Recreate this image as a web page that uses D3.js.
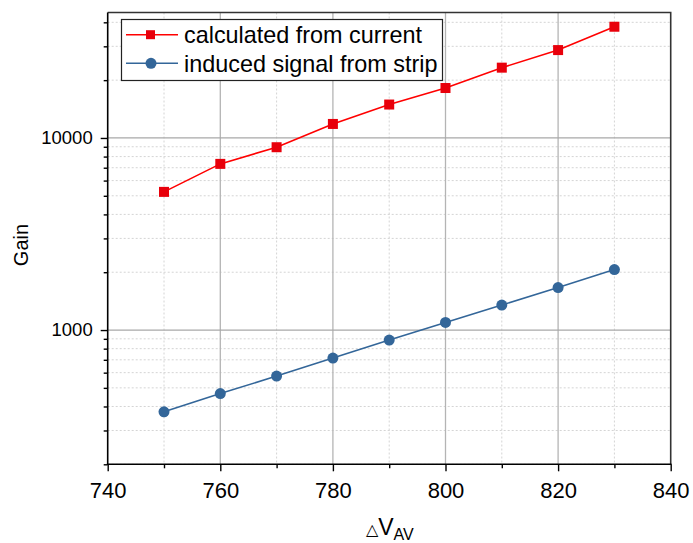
<!DOCTYPE html>
<html>
<head>
<meta charset="utf-8">
<script src="https://cdn.jsdelivr.net/npm/d3@7"></script>
<style>
  html, body { margin: 0; padding: 0; background: #fff; }
  svg { display: block; font-family: "Liberation Sans", Arial, sans-serif; }
</style>
</head>
<body>
<svg id="chart" width="693" height="543"></svg>
<script>
// Gain versus avalanche voltage, two measurement methods
const voltages = [750, 760, 770, 780, 790, 800, 810, 820, 830];
const gainFromCurrent = [5240, 7330, 8950, 11830, 14930, 18200, 23230, 28680, 37940];
const gainFromStrip = [375, 467, 576, 715, 887, 1095, 1349, 1665, 2066];
const seriesNames = ["calculated from current", "induced signal from strip"];
const xTicks = [740, 760, 780, 800, 820, 840];
const xMinorTicks = [750, 770, 790, 810, 830];
const yTicks = [1000, 10000];
const yMinorTicks = [200, 300, 400, 500, 600, 700, 800, 900,
                     2000, 3000, 4000, 5000, 6000, 7000, 8000, 9000,
                     20000, 30000, 40000];

const svg = d3.select("#chart");
const plotL = 107.7, plotR = 670.7, plotT = 12.5, plotB = 464.3;

const x = d3.scaleLinear().domain([740, 840]).range([plotL, plotR]);
const y = d3.scaleLog().domain([200, 45000]).range([plotB, plotT]);

const grid = svg.append("g");
// minor grid (dotted)
grid.selectAll("line.xm").data(xMinorTicks).enter().append("line")
  .attr("x1", d => x(d)).attr("x2", d => x(d)).attr("y1", plotT).attr("y2", plotB)
  .attr("stroke", "#d4d4d4").attr("stroke-width", 1).attr("stroke-dasharray", "2,2");
grid.selectAll("line.ym").data(yMinorTicks).enter().append("line")
  .attr("y1", d => y(d)).attr("y2", d => y(d)).attr("x1", plotL).attr("x2", plotR)
  .attr("stroke", "#d4d4d4").attr("stroke-width", 1).attr("stroke-dasharray", "2,2");
// major grid (solid)
grid.selectAll("line.xM").data(xTicks.slice(1, -1)).enter().append("line")
  .attr("x1", d => x(d)).attr("x2", d => x(d)).attr("y1", plotT).attr("y2", plotB)
  .attr("stroke", "#b4b4b4").attr("stroke-width", 1.3);
grid.selectAll("line.yM").data(yTicks).enter().append("line")
  .attr("y1", d => y(d)).attr("y2", d => y(d)).attr("x1", plotL).attr("x2", plotR)
  .attr("stroke", "#a8a8a8").attr("stroke-width", 1.3);

// frame top / right
svg.append("path")
  .attr("d", `M${plotL},${plotT}H${plotR}V${plotB}`)
  .attr("fill", "none").attr("stroke", "#333").attr("stroke-width", 1.6);

// x axis
const xAxis = svg.append("g").attr("transform", `translate(0,${plotB})`)
  .call(d3.axisBottom(x).tickValues(xTicks).tickSize(7).tickSizeOuter(0).tickPadding(11).tickFormat(d3.format("d")));
const xMinor = svg.append("g").attr("transform", `translate(0,${plotB})`)
  .call(d3.axisBottom(x).tickValues(xMinorTicks).tickSize(4).tickSizeOuter(0).tickFormat(""));
xMinor.select(".domain").remove();

// y axis
const yAxis = svg.append("g").attr("transform", `translate(${plotL},0)`)
  .call(d3.axisLeft(y).tickValues(yTicks).tickSize(7).tickSizeOuter(0).tickPadding(8).tickFormat(d3.format("d")));
const yMinor = svg.append("g").attr("transform", `translate(${plotL},0)`)
  .call(d3.axisLeft(y).tickValues(yMinorTicks).tickSize(4).tickSizeOuter(0).tickFormat(""));
yMinor.select(".domain").remove();

[xAxis, xMinor, yAxis, yMinor].forEach(g => {
  g.selectAll(".domain").attr("stroke", "#000").attr("stroke-width", 1.6);
  g.selectAll(".tick line").attr("stroke", "#000").attr("stroke-width", 1.4);
  g.selectAll(".tick text").attr("fill", "#000")
    .attr("font-family", "'Liberation Sans', Arial, sans-serif");
});
xAxis.selectAll(".tick text").attr("font-size", 22);
yAxis.selectAll(".tick text").attr("font-size", 18.5);
// axis lines span the full plot edges
xAxis.select(".domain").attr("d", `M${plotL - 0.8},0H${plotR + 0.8}`);
yAxis.select(".domain").attr("d", `M0,${plotB + 0.8}V${plotT}`);

// axis titles
svg.append("text")
  .attr("transform", `translate(27.7,245) rotate(-90)`)
  .attr("text-anchor", "middle").attr("font-size", 20).attr("fill", "#000").text("Gain");

const xt = svg.append("text").attr("x", 390).attr("y", 535)
  .attr("text-anchor", "middle").attr("font-size", 23).attr("fill", "#000");
xt.append("tspan").attr("font-size", 16).text("△");
xt.append("tspan").text("V");
xt.append("tspan").attr("font-size", 16).attr("dy", 5).text("AV");

// series
const redColor = "#e8000b", blueColor = "#336699";
const line = d3.line().x((d, i) => x(voltages[i])).y(d => y(d));

svg.append("path").datum(gainFromCurrent).attr("d", line)
  .attr("fill", "none").attr("stroke", "#ff0000").attr("stroke-width", 1.6);
svg.append("path").datum(gainFromStrip).attr("d", line)
  .attr("fill", "none").attr("stroke", blueColor).attr("stroke-width", 1.6);

svg.selectAll("rect.red").data(gainFromCurrent).enter().append("rect")
  .attr("x", (d, i) => x(voltages[i]) - 5).attr("y", d => y(d) - 5)
  .attr("width", 10).attr("height", 10).attr("fill", redColor);
svg.selectAll("circle.blue").data(gainFromStrip).enter().append("circle")
  .attr("cx", (d, i) => x(voltages[i])).attr("cy", d => y(d))
  .attr("r", 5.5).attr("fill", blueColor);

// legend
const lg = svg.append("g");
lg.append("rect").attr("x", 121.5).attr("y", 19.5).attr("width", 321).attr("height", 61)
  .attr("fill", "#fff").attr("stroke", "#222").attr("stroke-width", 1.2);
const rows = [{ name: seriesNames[0], color: redColor, line: "#ff0000", shape: "square", yy: 34.7 },
              { name: seriesNames[1], color: blueColor, line: blueColor, shape: "circle", yy: 63.3 }];
rows.forEach(r => {
  lg.append("line").attr("x1", 126).attr("x2", 178).attr("y1", r.yy).attr("y2", r.yy)
    .attr("stroke", r.line).attr("stroke-width", 1.6);
  if (r.shape === "square") {
    lg.append("rect").attr("x", 146).attr("y", r.yy - 4.5).attr("width", 9).attr("height", 9).attr("fill", r.color);
  } else {
    lg.append("circle").attr("cx", 151).attr("cy", r.yy).attr("r", 5.5).attr("fill", r.color);
  }
  lg.append("text").attr("x", 184).attr("y", r.yy + 8.4).attr("font-size", 23.4).attr("fill", "#000").text(r.name);
});
</script>
</body>
</html>
